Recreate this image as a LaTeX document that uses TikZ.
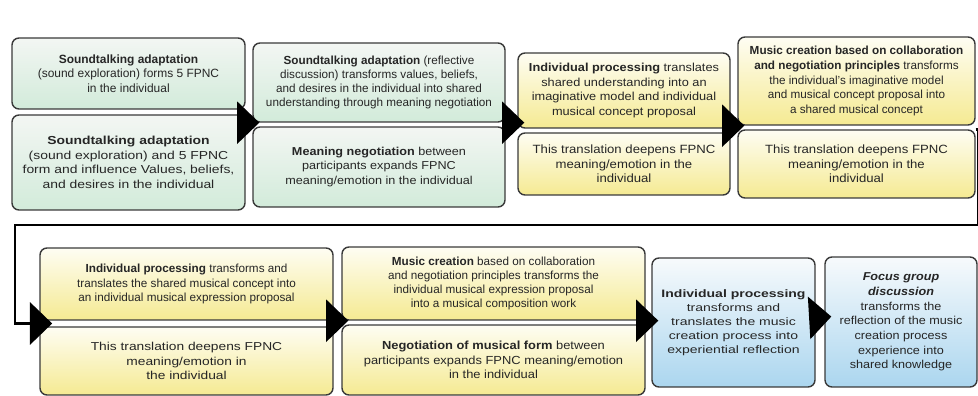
\documentclass[tikz,border=0pt]{standalone}
\usepackage{fontspec}
\setmainfont{Liberation Sans}
\newfontfamily\widea[FakeStretch=1.1]{Liberation Sans}
\newfontfamily\wideb[FakeStretch=1.2]{Liberation Sans}
\newfontfamily\widec[FakeStretch=1.3]{Liberation Sans}
\usetikzlibrary{positioning,calc,arrows.meta}
\usepackage{xcolor}
\definecolor{boxline}{HTML}{3A3A3A}
\definecolor{greenhi}{HTML}{F3F6F3}
\definecolor{greenlo}{HTML}{D2EBDA}
\definecolor{yellowhi}{HTML}{FEFDF3}
\definecolor{yellowlo}{HTML}{F5EA92}
\definecolor{bluehi}{HTML}{F7FAFC}
\definecolor{bluelo}{HTML}{ABD6EF}
\tikzset{
stage/.style={
  draw=boxline,
  line width=1.2pt,
  rounded corners=6pt,
  align=center,
  inner sep=1pt,
  text=black!85,
  font=\fontsize{10}{12.5}\selectfont
  },
dims/.style 2 args={minimum width=#1*0.03cm, minimum height=#2*0.03cm},
fs/.style n args={3}{font=#1\fontsize{#2}{#3}\selectfont},
greenbox/.style={stage, top color=greenhi, bottom color=greenlo},
yellowbox/.style={stage, top color=yellowhi, bottom color=yellowlo},
bluebox/.style={stage, top color=bluehi, bottom color=bluelo},
flow/.style={-{Triangle[length=19pt,width=36pt]}, line width=2pt, shorten >=-6pt},
feedback/.style={flow, line width=2.5pt, shorten >=-11pt},
}

\begin{document}
\begin{tikzpicture}[x=0.03cm,y=0.03cm]
    \useasboundingbox (0,0) rectangle (978,396);
    % first row
    \node [greenbox,dims={233}{71},fs={}{10.2}{12.5}] (sa1) at (128.5,322.5)
        {\textbf{Soundtalking adaptation}\\(sound exploration) forms 5 FPNC\\in the individual};
    \node [greenbox,dims={233}{95},fs={\wideb}{9.9}{12.5}] (sb1) at (128.5,233.5)
        {\textbf{Soundtalking adaptation}\\(sound exploration) and 5 FPNC\\form and influence Values, beliefs,\\and desires in the individual};
    \node [greenbox,dims={252}{79},fs={}{10}{12.2}] (sa2) at (379,313.5)
        {\textbf{Soundtalking adaptation} (reflective\\discussion) transforms values, beliefs,\\and desires in the individual into shared\\understanding through meaning negotiation};
    \node [greenbox,dims={252}{80},fs={\widea}{9.8}{12.5}] (sb2) at (379,229)
        {\textbf{Meaning negotiation} between\\participants expands FPNC\\meaning/emotion in the individual};
    \node [yellowbox,dims={212}{75},fs={\widea}{9.9}{12.5}] (sa3) at (624,305.5)
        {\textbf{Individual processing} translates\\shared understanding into an\\imaginative model and individual\\musical concept proposal};
    \node [yellowbox,dims={212}{62},fs={\widea}{10.2}{12.5}] (sb3) at (624,232)
        {This translation deepens FPNC\\meaning/emotion in the\\individual};
    \node [yellowbox,dims={237}{88},fs={}{10}{12.5}] (sa4) at (856.5,315)
        {\textbf{Music creation based on collaboration}\\\textbf{and negotiation principles} transforms\\the individual's imaginative model\\and musical concept proposal into\\a shared musical concept};
    \node [yellowbox,dims={237}{68},fs={\widea}{10.2}{12.5}] (sb4) at (856.5,232)
        {This translation deepens FPNC\\meaning/emotion in the\\individual};
    % second row
    \node [yellowbox,dims={293}{72},fs={}{10}{12.5}] (sa5) at (186.5,112)
        {\textbf{Individual processing} transforms and\\translates the shared musical concept into\\an individual musical expression proposal};
    \node [yellowbox,dims={293}{68},fs={\wideb}{9.8}{12.5}] (sb5) at (186.5,35)
        {This translation deepens FPNC\\meaning/emotion in\\the individual};
    \node [yellowbox,dims={303}{73},fs={}{10}{12.2}] (sa6) at (493.5,112.5)
        {\textbf{Music creation} based on collaboration\\and negotiation principles transforms the\\individual musical expression proposal\\into a musical composition work};
    \node [yellowbox,dims={303}{70},fs={\widea}{10}{12.5}] (sb6) at (493.5,36)
        {\textbf{Negotiation of musical form} between\\participants expands FPNC meaning/emotion\\in the individual};
    \node [bluebox,dims={163}{129},fs={\widec}{9.2}{12}] (c7) at (733.5,73.5)
        {\textbf{Individual processing}\\transforms and\\translates the music\\creation process into\\experiential reflection};
    \node [bluebox,dims={152}{130},fs={\widea}{9.8}{12.5}] (c8) at (901,74)
        {\textbf{\textit{Focus group}}\\\textbf{\textit{discussion}}\\transforms the\\reflection of the music\\creation process\\experience into\\shared knowledge};

    \draw [flow] (sa2.south west -| sa1.east) -- (sa2.south west);
    \draw [flow] (sa2.south east) -- (sa2.south east -| sa3.west);
    \draw [flow] (sa4.south west -| sa3.east) -- (sa4.south west);
    \coordinate (turn) at (15,171);
    \coordinate (j5) at ($(sa5.south west)!.5!(sb5.north west)$);
    \draw [feedback] (sb4.north east) -- ++(2.5,0) |- (turn) |- (j5);
    \draw [flow] (sa5.south east) -- (sa6.south west);
    \draw [flow] (sa6.south east) -- (sa6.south east -| c7.west);
    \draw [flow] ($(c7.east)+(0,5)$) -- ($(c8.west)+(0,5)$);
\end{tikzpicture}
\end{document}
